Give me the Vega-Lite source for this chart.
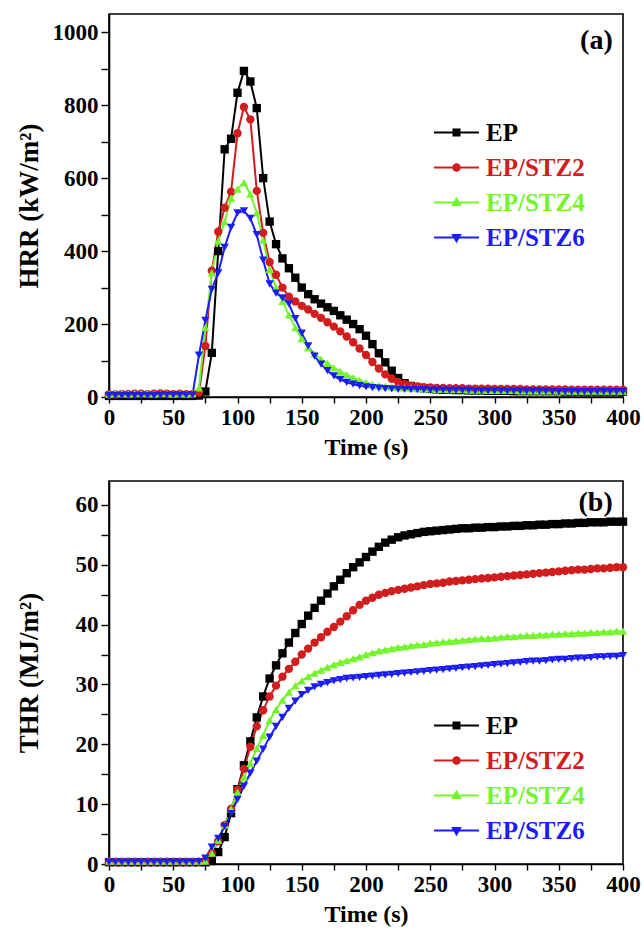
{
  "$schema": "https://vega.github.io/schema/vega-lite/v6.json",
  "background": "white",
  "padding": {"top": 13, "left": 14, "right": 5, "bottom": 5},
  "config": {
    "font": "Liberation Serif",
    "view": {"stroke": "black", "strokeWidth": 1.6},
    "axis": {"labelFont": "Liberation Serif", "labelFontWeight": "bold", "labelFontSize": 23, "labelColor": "black", "titleFont": "Liberation Serif", "titleFontWeight": "bold", "titleColor": "black", "domainColor": "black", "domainWidth": 1.6, "tickColor": "black", "tickWidth": 1.4, "grid": false, "labelFlush": false, "labelOverlap": false, "format": "d"},
    "axisX": {"tickSize": 6, "labelPadding": 3, "titleFontSize": 24, "titlePadding": 6},
    "axisY": {"tickSize": 8, "labelPadding": 3, "titleFontSize": 27, "titleX": -66},
    "legend": {"labelFont": "Liberation Serif", "labelFontWeight": "bold", "labelFontSize": 25, "symbolSize": 400, "symbolStrokeWidth": 2, "rowPadding": 9, "labelOffset": 17, "padding": 0}
  },
  "datasets": {
    "hrr": [
      {"t":0,"EP":3,"EP/STZ2":7,"EP/STZ4":8,"EP/STZ6":4},
      {"t":5,"EP":3,"EP/STZ2":7,"EP/STZ4":9,"EP/STZ6":4},
      {"t":10,"EP":3,"EP/STZ2":8,"EP/STZ4":9,"EP/STZ6":4},
      {"t":15,"EP":3,"EP/STZ2":8,"EP/STZ4":8,"EP/STZ6":4},
      {"t":20,"EP":3,"EP/STZ2":9,"EP/STZ4":9,"EP/STZ6":4},
      {"t":25,"EP":3,"EP/STZ2":9,"EP/STZ4":9,"EP/STZ6":4},
      {"t":30,"EP":3,"EP/STZ2":8,"EP/STZ4":9,"EP/STZ6":4},
      {"t":35,"EP":3,"EP/STZ2":9,"EP/STZ4":8,"EP/STZ6":4},
      {"t":40,"EP":3,"EP/STZ2":10,"EP/STZ4":9,"EP/STZ6":5},
      {"t":45,"EP":3,"EP/STZ2":9,"EP/STZ4":9,"EP/STZ6":5},
      {"t":50,"EP":3,"EP/STZ2":8,"EP/STZ4":8,"EP/STZ6":5},
      {"t":55,"EP":3,"EP/STZ2":9,"EP/STZ4":9,"EP/STZ6":5},
      {"t":60,"EP":3,"EP/STZ2":8,"EP/STZ4":8,"EP/STZ6":5},
      {"t":65,"EP":3,"EP/STZ2":8,"EP/STZ4":9,"EP/STZ6":6},
      {"t":70,"EP":4,"EP/STZ2":12,"EP/STZ4":25,"EP/STZ6":115},
      {"t":75,"EP":15,"EP/STZ2":140,"EP/STZ4":190,"EP/STZ6":210},
      {"t":80,"EP":121,"EP/STZ2":346,"EP/STZ4":340,"EP/STZ6":295},
      {"t":85,"EP":400,"EP/STZ2":453,"EP/STZ4":428,"EP/STZ6":340},
      {"t":90,"EP":679,"EP/STZ2":519,"EP/STZ4":480,"EP/STZ6":410},
      {"t":95,"EP":708,"EP/STZ2":563,"EP/STZ4":545,"EP/STZ6":465},
      {"t":100,"EP":834,"EP/STZ2":723,"EP/STZ4":570,"EP/STZ6":505},
      {"t":105,"EP":894,"EP/STZ2":795,"EP/STZ4":588,"EP/STZ6":510},
      {"t":110,"EP":865,"EP/STZ2":761,"EP/STZ4":556,"EP/STZ6":490},
      {"t":115,"EP":792,"EP/STZ2":565,"EP/STZ4":505,"EP/STZ6":445},
      {"t":120,"EP":600,"EP/STZ2":450,"EP/STZ4":430,"EP/STZ6":375},
      {"t":125,"EP":481,"EP/STZ2":370,"EP/STZ4":350,"EP/STZ6":310},
      {"t":130,"EP":419,"EP/STZ2":335,"EP/STZ4":300,"EP/STZ6":285},
      {"t":135,"EP":380,"EP/STZ2":300,"EP/STZ4":262,"EP/STZ6":272},
      {"t":140,"EP":353,"EP/STZ2":275,"EP/STZ4":225,"EP/STZ6":255},
      {"t":145,"EP":327,"EP/STZ2":262,"EP/STZ4":190,"EP/STZ6":215},
      {"t":150,"EP":300,"EP/STZ2":250,"EP/STZ4":160,"EP/STZ6":175},
      {"t":155,"EP":282,"EP/STZ2":240,"EP/STZ4":135,"EP/STZ6":140},
      {"t":160,"EP":268,"EP/STZ2":228,"EP/STZ4":118,"EP/STZ6":112},
      {"t":165,"EP":256,"EP/STZ2":217,"EP/STZ4":104,"EP/STZ6":90},
      {"t":170,"EP":246,"EP/STZ2":205,"EP/STZ4":92,"EP/STZ6":72},
      {"t":175,"EP":236,"EP/STZ2":193,"EP/STZ4":80,"EP/STZ6":58},
      {"t":180,"EP":224,"EP/STZ2":180,"EP/STZ4":70,"EP/STZ6":48},
      {"t":185,"EP":212,"EP/STZ2":166,"EP/STZ4":61,"EP/STZ6":40},
      {"t":190,"EP":200,"EP/STZ2":150,"EP/STZ4":53,"EP/STZ6":35},
      {"t":195,"EP":186,"EP/STZ2":133,"EP/STZ4":46,"EP/STZ6":31},
      {"t":200,"EP":168,"EP/STZ2":115,"EP/STZ4":40,"EP/STZ6":28},
      {"t":205,"EP":145,"EP/STZ2":96,"EP/STZ4":35,"EP/STZ6":26},
      {"t":210,"EP":120,"EP/STZ2":78,"EP/STZ4":31,"EP/STZ6":24},
      {"t":215,"EP":95,"EP/STZ2":62,"EP/STZ4":29,"EP/STZ6":23},
      {"t":220,"EP":72,"EP/STZ2":50,"EP/STZ4":27,"EP/STZ6":22},
      {"t":225,"EP":52,"EP/STZ2":41,"EP/STZ4":26,"EP/STZ6":21},
      {"t":230,"EP":38,"EP/STZ2":35,"EP/STZ4":25,"EP/STZ6":21},
      {"t":235,"EP":30,"EP/STZ2":31,"EP/STZ4":24,"EP/STZ6":20},
      {"t":240,"EP":26,"EP/STZ2":29,"EP/STZ4":23,"EP/STZ6":20},
      {"t":245,"EP":24,"EP/STZ2":27,"EP/STZ4":22,"EP/STZ6":20},
      {"t":250,"EP":22,"EP/STZ2":26,"EP/STZ4":22,"EP/STZ6":19},
      {"t":255,"EP":21,"EP/STZ2":25,"EP/STZ4":21,"EP/STZ6":19},
      {"t":260,"EP":20,"EP/STZ2":25,"EP/STZ4":21,"EP/STZ6":19},
      {"t":265,"EP":20,"EP/STZ2":24,"EP/STZ4":20,"EP/STZ6":18},
      {"t":270,"EP":19,"EP/STZ2":24,"EP/STZ4":20,"EP/STZ6":18},
      {"t":275,"EP":19,"EP/STZ2":24,"EP/STZ4":20,"EP/STZ6":18},
      {"t":280,"EP":18,"EP/STZ2":23,"EP/STZ4":19,"EP/STZ6":18},
      {"t":285,"EP":18,"EP/STZ2":23,"EP/STZ4":19,"EP/STZ6":17},
      {"t":290,"EP":18,"EP/STZ2":23,"EP/STZ4":19,"EP/STZ6":17},
      {"t":295,"EP":17,"EP/STZ2":23,"EP/STZ4":18,"EP/STZ6":17},
      {"t":300,"EP":17,"EP/STZ2":22,"EP/STZ4":18,"EP/STZ6":17},
      {"t":305,"EP":17,"EP/STZ2":22,"EP/STZ4":18,"EP/STZ6":17},
      {"t":310,"EP":17,"EP/STZ2":22,"EP/STZ4":18,"EP/STZ6":16},
      {"t":315,"EP":16,"EP/STZ2":22,"EP/STZ4":18,"EP/STZ6":16},
      {"t":320,"EP":16,"EP/STZ2":22,"EP/STZ4":17,"EP/STZ6":16},
      {"t":325,"EP":16,"EP/STZ2":21,"EP/STZ4":17,"EP/STZ6":16},
      {"t":330,"EP":16,"EP/STZ2":21,"EP/STZ4":17,"EP/STZ6":16},
      {"t":335,"EP":16,"EP/STZ2":21,"EP/STZ4":17,"EP/STZ6":16},
      {"t":340,"EP":16,"EP/STZ2":21,"EP/STZ4":17,"EP/STZ6":16},
      {"t":345,"EP":16,"EP/STZ2":21,"EP/STZ4":17,"EP/STZ6":15},
      {"t":350,"EP":16,"EP/STZ2":21,"EP/STZ4":17,"EP/STZ6":15},
      {"t":355,"EP":15,"EP/STZ2":21,"EP/STZ4":16,"EP/STZ6":15},
      {"t":360,"EP":15,"EP/STZ2":20,"EP/STZ4":16,"EP/STZ6":15},
      {"t":365,"EP":15,"EP/STZ2":20,"EP/STZ4":16,"EP/STZ6":15},
      {"t":370,"EP":15,"EP/STZ2":20,"EP/STZ4":16,"EP/STZ6":15},
      {"t":375,"EP":15,"EP/STZ2":20,"EP/STZ4":16,"EP/STZ6":15},
      {"t":380,"EP":15,"EP/STZ2":20,"EP/STZ4":16,"EP/STZ6":15},
      {"t":385,"EP":15,"EP/STZ2":20,"EP/STZ4":16,"EP/STZ6":15},
      {"t":390,"EP":15,"EP/STZ2":20,"EP/STZ4":16,"EP/STZ6":15},
      {"t":395,"EP":15,"EP/STZ2":20,"EP/STZ4":16,"EP/STZ6":15},
      {"t":400,"EP":15,"EP/STZ2":20,"EP/STZ4":16,"EP/STZ6":15}
    ],
    "thr": [
      {"t":0,"EP":0.3,"EP/STZ2":0.4,"EP/STZ4":0.5,"EP/STZ6":0.3},
      {"t":5,"EP":0.3,"EP/STZ2":0.4,"EP/STZ4":0.5,"EP/STZ6":0.3},
      {"t":10,"EP":0.3,"EP/STZ2":0.4,"EP/STZ4":0.5,"EP/STZ6":0.3},
      {"t":15,"EP":0.3,"EP/STZ2":0.4,"EP/STZ4":0.5,"EP/STZ6":0.3},
      {"t":20,"EP":0.3,"EP/STZ2":0.4,"EP/STZ4":0.5,"EP/STZ6":0.3},
      {"t":25,"EP":0.3,"EP/STZ2":0.4,"EP/STZ4":0.5,"EP/STZ6":0.3},
      {"t":30,"EP":0.3,"EP/STZ2":0.4,"EP/STZ4":0.5,"EP/STZ6":0.3},
      {"t":35,"EP":0.3,"EP/STZ2":0.4,"EP/STZ4":0.5,"EP/STZ6":0.3},
      {"t":40,"EP":0.3,"EP/STZ2":0.4,"EP/STZ4":0.5,"EP/STZ6":0.3},
      {"t":45,"EP":0.3,"EP/STZ2":0.4,"EP/STZ4":0.5,"EP/STZ6":0.3},
      {"t":50,"EP":0.3,"EP/STZ2":0.4,"EP/STZ4":0.5,"EP/STZ6":0.3},
      {"t":55,"EP":0.3,"EP/STZ2":0.4,"EP/STZ4":0.5,"EP/STZ6":0.3},
      {"t":60,"EP":0.3,"EP/STZ2":0.4,"EP/STZ4":0.5,"EP/STZ6":0.3},
      {"t":65,"EP":0.3,"EP/STZ2":0.4,"EP/STZ4":0.5,"EP/STZ6":0.3},
      {"t":70,"EP":0.3,"EP/STZ2":0.4,"EP/STZ4":0.5,"EP/STZ6":0.4},
      {"t":75,"EP":0.3,"EP/STZ2":0.6,"EP/STZ4":0.5,"EP/STZ6":1.0},
      {"t":80,"EP":0.5,"EP/STZ2":1.8,"EP/STZ4":1.8,"EP/STZ6":2.8},
      {"t":85,"EP":2.0,"EP/STZ2":3.8,"EP/STZ4":4.0,"EP/STZ6":4.3},
      {"t":90,"EP":4.5,"EP/STZ2":6.5,"EP/STZ4":6.5,"EP/STZ6":6.3},
      {"t":95,"EP":8.5,"EP/STZ2":9.2,"EP/STZ4":9.2,"EP/STZ6":8.4},
      {"t":100,"EP":12.5,"EP/STZ2":12.4,"EP/STZ4":12.0,"EP/STZ6":10.8},
      {"t":105,"EP":16.5,"EP/STZ2":15.9,"EP/STZ4":14.5,"EP/STZ6":13.0},
      {"t":110,"EP":20.5,"EP/STZ2":19.6,"EP/STZ4":16.8,"EP/STZ6":15.2},
      {"t":115,"EP":24.5,"EP/STZ2":23.0,"EP/STZ4":19.3,"EP/STZ6":17.2},
      {"t":120,"EP":28.0,"EP/STZ2":25.7,"EP/STZ4":21.5,"EP/STZ6":19.2},
      {"t":125,"EP":31.0,"EP/STZ2":28.0,"EP/STZ4":24.0,"EP/STZ6":21.2},
      {"t":130,"EP":33.2,"EP/STZ2":29.8,"EP/STZ4":25.8,"EP/STZ6":23.0},
      {"t":135,"EP":35.2,"EP/STZ2":31.3,"EP/STZ4":27.4,"EP/STZ6":24.5},
      {"t":140,"EP":37.0,"EP/STZ2":32.6,"EP/STZ4":28.7,"EP/STZ6":26.0},
      {"t":145,"EP":38.6,"EP/STZ2":33.8,"EP/STZ4":29.8,"EP/STZ6":27.2},
      {"t":150,"EP":40.1,"EP/STZ2":35.0,"EP/STZ4":30.6,"EP/STZ6":28.3},
      {"t":155,"EP":41.5,"EP/STZ2":36.0,"EP/STZ4":31.3,"EP/STZ6":29.0},
      {"t":160,"EP":42.8,"EP/STZ2":37.0,"EP/STZ4":31.9,"EP/STZ6":29.6},
      {"t":165,"EP":44.0,"EP/STZ2":37.9,"EP/STZ4":32.4,"EP/STZ6":30.0},
      {"t":170,"EP":45.2,"EP/STZ2":38.8,"EP/STZ4":32.9,"EP/STZ6":30.3},
      {"t":175,"EP":46.4,"EP/STZ2":39.6,"EP/STZ4":33.3,"EP/STZ6":30.6},
      {"t":180,"EP":47.5,"EP/STZ2":40.5,"EP/STZ4":33.7,"EP/STZ6":30.8},
      {"t":185,"EP":48.6,"EP/STZ2":41.4,"EP/STZ4":34.0,"EP/STZ6":31.0},
      {"t":190,"EP":49.6,"EP/STZ2":42.4,"EP/STZ4":34.3,"EP/STZ6":31.1},
      {"t":195,"EP":50.4,"EP/STZ2":43.3,"EP/STZ4":34.6,"EP/STZ6":31.2},
      {"t":200,"EP":51.3,"EP/STZ2":44.0,"EP/STZ4":35.0,"EP/STZ6":31.3},
      {"t":205,"EP":52.2,"EP/STZ2":44.5,"EP/STZ4":35.3,"EP/STZ6":31.4},
      {"t":210,"EP":53.0,"EP/STZ2":45.0,"EP/STZ4":35.6,"EP/STZ6":31.5},
      {"t":215,"EP":53.7,"EP/STZ2":45.3,"EP/STZ4":35.8,"EP/STZ6":31.6},
      {"t":220,"EP":54.2,"EP/STZ2":45.6,"EP/STZ4":36.0,"EP/STZ6":31.7},
      {"t":225,"EP":54.6,"EP/STZ2":45.8,"EP/STZ4":36.2,"EP/STZ6":31.8},
      {"t":230,"EP":54.9,"EP/STZ2":46.0,"EP/STZ4":36.3,"EP/STZ6":31.9},
      {"t":235,"EP":55.1,"EP/STZ2":46.2,"EP/STZ4":36.5,"EP/STZ6":32.0},
      {"t":240,"EP":55.3,"EP/STZ2":46.4,"EP/STZ4":36.6,"EP/STZ6":32.1},
      {"t":245,"EP":55.5,"EP/STZ2":46.6,"EP/STZ4":36.7,"EP/STZ6":32.2},
      {"t":250,"EP":55.6,"EP/STZ2":46.8,"EP/STZ4":36.9,"EP/STZ6":32.3},
      {"t":255,"EP":55.7,"EP/STZ2":46.9,"EP/STZ4":37.0,"EP/STZ6":32.4},
      {"t":260,"EP":55.8,"EP/STZ2":47.0,"EP/STZ4":37.1,"EP/STZ6":32.5},
      {"t":265,"EP":55.9,"EP/STZ2":47.2,"EP/STZ4":37.2,"EP/STZ6":32.6},
      {"t":270,"EP":56.0,"EP/STZ2":47.3,"EP/STZ4":37.3,"EP/STZ6":32.7},
      {"t":275,"EP":56.1,"EP/STZ2":47.4,"EP/STZ4":37.4,"EP/STZ6":32.8},
      {"t":280,"EP":56.1,"EP/STZ2":47.5,"EP/STZ4":37.5,"EP/STZ6":32.9},
      {"t":285,"EP":56.2,"EP/STZ2":47.6,"EP/STZ4":37.6,"EP/STZ6":33.0},
      {"t":290,"EP":56.2,"EP/STZ2":47.7,"EP/STZ4":37.7,"EP/STZ6":33.1},
      {"t":295,"EP":56.3,"EP/STZ2":47.8,"EP/STZ4":37.7,"EP/STZ6":33.2},
      {"t":300,"EP":56.3,"EP/STZ2":47.9,"EP/STZ4":37.8,"EP/STZ6":33.3},
      {"t":305,"EP":56.4,"EP/STZ2":48.0,"EP/STZ4":37.9,"EP/STZ6":33.4},
      {"t":310,"EP":56.4,"EP/STZ2":48.1,"EP/STZ4":38.0,"EP/STZ6":33.5},
      {"t":315,"EP":56.5,"EP/STZ2":48.2,"EP/STZ4":38.0,"EP/STZ6":33.6},
      {"t":320,"EP":56.5,"EP/STZ2":48.3,"EP/STZ4":38.1,"EP/STZ6":33.7},
      {"t":325,"EP":56.6,"EP/STZ2":48.4,"EP/STZ4":38.2,"EP/STZ6":33.8},
      {"t":330,"EP":56.6,"EP/STZ2":48.5,"EP/STZ4":38.2,"EP/STZ6":33.9},
      {"t":335,"EP":56.7,"EP/STZ2":48.6,"EP/STZ4":38.3,"EP/STZ6":33.9},
      {"t":340,"EP":56.7,"EP/STZ2":48.7,"EP/STZ4":38.3,"EP/STZ6":34.0},
      {"t":345,"EP":56.8,"EP/STZ2":48.8,"EP/STZ4":38.4,"EP/STZ6":34.1},
      {"t":350,"EP":56.8,"EP/STZ2":48.9,"EP/STZ4":38.4,"EP/STZ6":34.2},
      {"t":355,"EP":56.9,"EP/STZ2":49.0,"EP/STZ4":38.5,"EP/STZ6":34.2},
      {"t":360,"EP":56.9,"EP/STZ2":49.1,"EP/STZ4":38.5,"EP/STZ6":34.3},
      {"t":365,"EP":57.0,"EP/STZ2":49.2,"EP/STZ4":38.6,"EP/STZ6":34.4},
      {"t":370,"EP":57.0,"EP/STZ2":49.2,"EP/STZ4":38.6,"EP/STZ6":34.4},
      {"t":375,"EP":57.1,"EP/STZ2":49.3,"EP/STZ4":38.7,"EP/STZ6":34.5},
      {"t":380,"EP":57.1,"EP/STZ2":49.4,"EP/STZ4":38.7,"EP/STZ6":34.6},
      {"t":385,"EP":57.1,"EP/STZ2":49.4,"EP/STZ4":38.8,"EP/STZ6":34.6},
      {"t":390,"EP":57.2,"EP/STZ2":49.5,"EP/STZ4":38.8,"EP/STZ6":34.7},
      {"t":395,"EP":57.2,"EP/STZ2":49.6,"EP/STZ4":38.9,"EP/STZ6":34.7},
      {"t":400,"EP":57.2,"EP/STZ2":49.6,"EP/STZ4":38.9,"EP/STZ6":34.8}
    ]
  },
  "spacing": 20,
  "resolve": {"legend": {"color": "independent"}},
  "vconcat": [
    {
      "width": 514,
      "height": 383,
      "data": {"name": "hrr"},
      "transform": [{"fold": ["EP", "EP/STZ2", "EP/STZ4", "EP/STZ6"], "as": ["sample", "v"]}],
      "encoding": {
        "x": {"field": "t", "type": "quantitative", "scale": {"domain": [0, 400], "nice": false},
              "axis": {"title": "Time (s)", "values": [0,25,50,75,100,125,150,175,200,225,250,275,300,325,350,375,400], "labelExpr": "datum.value % 50 === 0 ? datum.label : ''"}},
        "y": {"field": "v", "type": "quantitative", "scale": {"domain": [0, 1050], "nice": false, "zero": false},
              "axis": {"title": "HRR (kW/m²)", "values": [0,100,200,300,400,500,600,700,800,900,1000], "labelExpr": "datum.value % 200 === 0 ? datum.label : ''"}},
        "color": {"field": "sample", "type": "nominal",
                  "scale": {"domain": ["EP", "EP/STZ2", "EP/STZ4", "EP/STZ6"], "range": ["#000000", "#d11d1d", "#72f52a", "#1c1cf5"]},
                  "legend": {"title": null, "orient": "none", "legendX": 335, "legendY": 106,
                    "encode": {
                      "symbols": {"update": {
                        "shape": {"signal": "datum.value === 'EP' ? 'M-2.25,0L2.25,0M-0.3,-0.3L0.3,-0.3L0.3,0.3L-0.3,0.3Z' : datum.value === 'EP/STZ2' ? 'M-2.25,0L2.25,0M0.33,0A0.33,0.33 0 1,1 -0.33,0A0.33,0.33 0 1,1 0.33,0Z' : datum.value === 'EP/STZ4' ? 'M-2.25,0L2.25,0M0,-0.38L0.36,0.25L-0.36,0.25Z' : 'M-2.25,0L2.25,0M0,0.38L0.36,-0.25L-0.36,-0.25Z'"},
                        "fill": {"signal": "datum.value === 'EP' ? '#000000' : datum.value === 'EP/STZ2' ? '#d11d1d' : datum.value === 'EP/STZ4' ? '#72f52a' : '#1c1cf5'"},
                        "stroke": {"signal": "datum.value === 'EP' ? '#000000' : datum.value === 'EP/STZ2' ? '#d11d1d' : datum.value === 'EP/STZ4' ? '#72f52a' : '#1c1cf5'"},
                        "strokeWidth": {"value": 2},
                        "size": {"value": 400},
                        "opacity": {"value": 1}
                      }},
                      "labels": {"update": {
                        "fill": {"signal": "datum.value === 'EP' ? '#000000' : datum.value === 'EP/STZ2' ? '#d11d1d' : datum.value === 'EP/STZ4' ? '#72f52a' : '#1c1cf5'"}
                      }}
                    }}}
      },
      "layer": [
        {"mark": {"type": "line", "strokeWidth": 2}},
        {"mark": {"type": "point", "filled": true, "size": 70, "opacity": 1},
         "encoding": {"shape": {"field": "sample", "type": "nominal", "scale": {"domain": ["EP", "EP/STZ2", "EP/STZ4", "EP/STZ6"], "range": ["square", "circle", "triangle-up", "triangle-down"]}, "legend": null},
                      "order": {"field": "sample"}}},
        {"data": {"values": [{"t": 392, "v": 976, "label": "(a)"}]},
         "transform": [],
         "mark": {"type": "text", "align": "right", "baseline": "middle", "font": "Liberation Serif", "fontWeight": "bold", "fontSize": 28},
         "encoding": {"text": {"field": "label"}, "color": {"value": "black"}}}
      ]
    },
    {
      "width": 514,
      "height": 383,
      "data": {"name": "thr"},
      "transform": [{"fold": ["EP", "EP/STZ2", "EP/STZ4", "EP/STZ6"], "as": ["sample", "v"]}],
      "encoding": {
        "x": {"field": "t", "type": "quantitative", "scale": {"domain": [0, 400], "nice": false},
              "axis": {"title": "Time (s)", "values": [0,25,50,75,100,125,150,175,200,225,250,275,300,325,350,375,400], "labelExpr": "datum.value % 50 === 0 ? datum.label : ''"}},
        "y": {"field": "v", "type": "quantitative", "scale": {"domain": [0, 64], "nice": false, "zero": false},
              "axis": {"title": "THR (MJ/m²)", "values": [0,5,10,15,20,25,30,35,40,45,50,55,60], "labelExpr": "datum.value % 10 === 0 ? datum.label : ''"}},
        "color": {"field": "sample", "type": "nominal",
                  "scale": {"domain": ["EP", "EP/STZ2", "EP/STZ4", "EP/STZ6"], "range": ["#000000", "#d11d1d", "#72f52a", "#1c1cf5"]},
                  "legend": {"title": null, "orient": "none", "legendX": 335, "legendY": 232,
                    "encode": {
                      "symbols": {"update": {
                        "shape": {"signal": "datum.value === 'EP' ? 'M-2.25,0L2.25,0M-0.3,-0.3L0.3,-0.3L0.3,0.3L-0.3,0.3Z' : datum.value === 'EP/STZ2' ? 'M-2.25,0L2.25,0M0.33,0A0.33,0.33 0 1,1 -0.33,0A0.33,0.33 0 1,1 0.33,0Z' : datum.value === 'EP/STZ4' ? 'M-2.25,0L2.25,0M0,-0.38L0.36,0.25L-0.36,0.25Z' : 'M-2.25,0L2.25,0M0,0.38L0.36,-0.25L-0.36,-0.25Z'"},
                        "fill": {"signal": "datum.value === 'EP' ? '#000000' : datum.value === 'EP/STZ2' ? '#d11d1d' : datum.value === 'EP/STZ4' ? '#72f52a' : '#1c1cf5'"},
                        "stroke": {"signal": "datum.value === 'EP' ? '#000000' : datum.value === 'EP/STZ2' ? '#d11d1d' : datum.value === 'EP/STZ4' ? '#72f52a' : '#1c1cf5'"},
                        "strokeWidth": {"value": 2},
                        "size": {"value": 400},
                        "opacity": {"value": 1}
                      }},
                      "labels": {"update": {
                        "fill": {"signal": "datum.value === 'EP' ? '#000000' : datum.value === 'EP/STZ2' ? '#d11d1d' : datum.value === 'EP/STZ4' ? '#72f52a' : '#1c1cf5'"}
                      }}
                    }}}
      },
      "layer": [
        {"mark": {"type": "line", "strokeWidth": 2}},
        {"mark": {"type": "point", "filled": true, "size": 70, "opacity": 1},
         "encoding": {"shape": {"field": "sample", "type": "nominal", "scale": {"domain": ["EP", "EP/STZ2", "EP/STZ4", "EP/STZ6"], "range": ["square", "circle", "triangle-up", "triangle-down"]}, "legend": null},
                      "order": {"field": "sample"}}},
        {"data": {"values": [{"t": 392, "v": 60.3, "label": "(b)"}]},
         "transform": [],
         "mark": {"type": "text", "align": "right", "baseline": "middle", "font": "Liberation Serif", "fontWeight": "bold", "fontSize": 28},
         "encoding": {"text": {"field": "label"}, "color": {"value": "black"}}}
      ]
    }
  ]
}
